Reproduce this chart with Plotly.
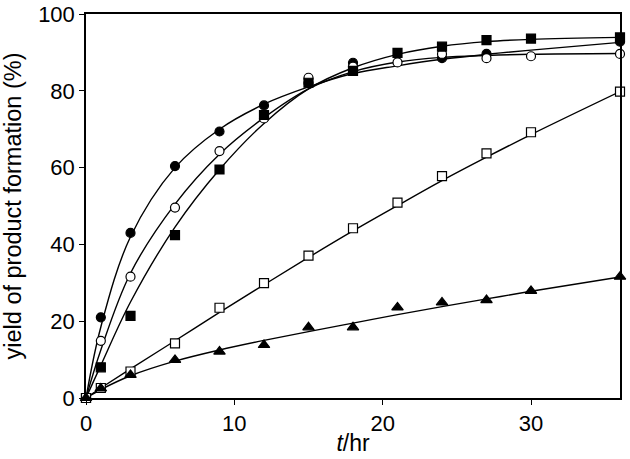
import plotly.graph_objects as go

t = [0, 1, 3, 6, 9, 12, 15, 18, 21, 24, 27, 30, 36]

# measured points (None = point not shown)
filled_circle = [0, 21.0, 43.0, 60.4, 69.4, 76.2, 82.0, 87.3, None, 88.5, 89.6, None, 92.8]
open_circle   = [0, 14.9, 31.6, 49.6, 64.3, 72.8, 83.4, 86.3, 87.4, 89.6, 88.5, 89.0, 89.6]
filled_square = [0, 8.0, 21.4, 42.4, 59.5, 73.7, 82.1, 85.2, 89.9, 91.5, 93.2, 93.6, 93.9]
open_square   = [0, 2.6, 6.9, 14.2, 23.5, 29.9, 37.1, 44.2, 50.9, 57.8, 63.7, 69.2, 79.8]
filled_tri    = [0, 2.5, 6.0, 9.9, 12.1, 13.8, 18.4, 18.4, 23.6, 24.9, 25.5, 27.9, 31.6]

# fitted curves at the same times
fit_filled_circle = [0, 18.5, 42.0, 60.0, 70.0, 76.5, 81.0, 84.5, 86.5, 88.2, 89.5, 90.6, 92.6]
fit_open_circle   = [0, 12.5, 32.5, 50.5, 63.5, 73.0, 80.5, 85.0, 87.5, 88.7, 89.2, 89.5, 89.7]
fit_filled_square = [0, 8.5, 25.0, 44.5, 59.5, 71.5, 80.5, 86.0, 89.5, 91.6, 92.8, 93.4, 93.9]
fit_open_square   = [0, 2.6, 7.6, 14.9, 22.3, 29.5, 36.6, 43.5, 50.1, 56.6, 62.7, 68.6, 79.8]
fit_filled_tri    = [0, 2.2, 5.8, 9.6, 12.5, 15.0, 17.3, 19.5, 21.7, 23.8, 25.8, 27.8, 31.5]

series = [
    (filled_circle, fit_filled_circle, "circle", True),
    (open_circle, fit_open_circle, "circle", False),
    (filled_square, fit_filled_square, "square", True),
    (open_square, fit_open_square, "square", False),
    (filled_tri, fit_filled_tri, "triangle-up", True),
]

fig = go.Figure()
for pts, fit, sym, filled in series:
    fig.add_trace(go.Scatter(x=t, y=fit, mode="lines",
                             line=dict(color="black", width=1.4, shape="spline", smoothing=1.0),
                             showlegend=False, hoverinfo="skip", cliponaxis=False))
for pts, fit, sym, filled in series:
    fig.add_trace(go.Scatter(x=t, y=pts, mode="markers", showlegend=False, cliponaxis=False,
                             marker=dict(symbol=sym, size=10 if "triangle" in sym else 9,
                                         color="black" if filled else "white",
                                         line=dict(color="black", width=1.2))))

font = "Liberation Sans, Arial, sans-serif"
fig.update_layout(
    width=630, height=459,
    margin=dict(l=86, r=10, t=14, b=61),
    paper_bgcolor="white", plot_bgcolor="white",
    font=dict(family=font, size=22, color="black"),
    xaxis=dict(range=[0, 36], tickvals=[0, 10, 20, 30], showgrid=False, zeroline=False,
               showline=True, linecolor="black", linewidth=1.5, mirror=True,
               ticks="outside", ticklen=5, tickcolor="black", automargin=False,
               title=dict(text="<i>t</i>/hr", font=dict(size=23), standoff=0)),
    yaxis=dict(range=[0, 100], tickvals=[0, 20, 40, 60, 80, 100], showgrid=False, zeroline=False,
               showline=True, linecolor="black", linewidth=1.5, mirror=True,
               ticks="outside", ticklen=5, tickcolor="black", automargin=False,
               title=dict(text="yield of product formation (%)", font=dict(size=23.5), standoff=12)),
)
fig.write_html("out.html", config={"displayModeBar": False},
               post_script="document.body.style.margin='0';")
